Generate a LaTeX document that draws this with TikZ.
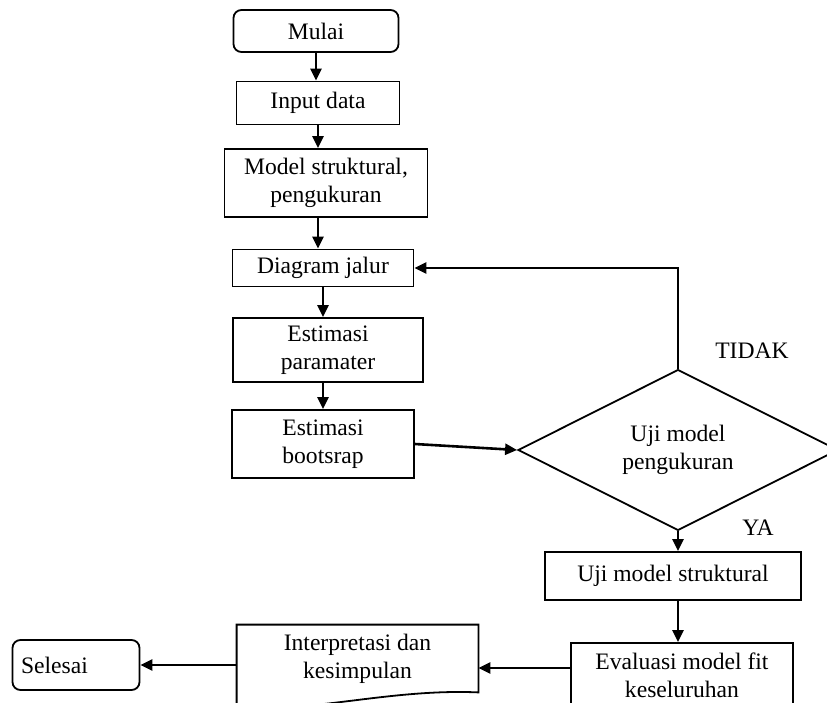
\documentclass[tikz,border=0pt]{standalone}
\usepackage{fontspec}
\setmainfont{Liberation Serif}
\usetikzlibrary{shapes.geometric,arrows.meta}
\tikzset{
  terminal/.style={draw, rounded corners=4pt, line width=0.9pt, inner sep=0pt},
  process/.style={draw, rectangle, line width=0.9pt, align=center, inner sep=0pt},
  decision/.style={draw, diamond, line width=0.9pt, align=center, inner sep=0pt},
  docbox/.style={line width=0.9pt},
  flow/.style={line width=1.3pt, -{Triangle[length=6pt,width=5.5pt]}},
  answer/.style={inner sep=0pt}
}

\begin{document}
\begin{tikzpicture}[x=0.5pt, y=-0.5pt, font=\fontsize{11.8}{14}\selectfont]
  \clip (0,0) rectangle (827,703);
  \node[terminal, minimum width=82.5pt, minimum height=21pt] (mulai) at (316,31) {Mulai};
  \node[process, minimum width=81.5pt, minimum height=21.5pt] (input) at (318,103) {Input data};
  \node[process, minimum width=101.5pt, minimum height=34pt] (model) at (326,183) {Model struktural,\\pengukuran};
  \node[process, minimum width=90.5pt, minimum height=18.5pt] (jalur) at (323,268) {Diagram jalur};
  \node[process, minimum width=95pt, minimum height=32pt] (estpar) at (328,350) {Estimasi\\paramater};
  \node[process, minimum width=91pt, minimum height=34pt] (estboot) at (323,444) {Estimasi\\bootsrap};
  \node[decision, minimum width=160pt, minimum height=63pt] (ujiukur) at (678,450) {Uji model\\pengukuran};
  \node[process, minimum width=128pt, minimum height=24pt] (ujistruk) at (673,576) {Uji model struktural};
  \node[process, minimum width=111pt, minimum height=32pt] (evaluasi) at (682,675) {Evaluasi model fit\\keseluruhan};
  \node[align=center, minimum width=120.5pt, minimum height=33.5pt, inner sep=0pt] (interp) at (357.5,658.5) {Interpretasi dan\\kesimpulan};
  \node[terminal, minimum width=63.5pt, minimum height=25pt, text width=55pt, align=left] (selesai) at (76,665) {Selesai};
  \node[answer] (tidak) at (752,351) {TIDAK};
  \node[answer] (ya) at (758,528) {YA};

  \draw[docbox] ([yshift=-7pt]interp.south west) -- (interp.north west) -- (interp.north east) -- (interp.south east)
    .. controls +(-90,-4) and +(70,8) .. ([yshift=-7pt]interp.south west);

  \draw[flow] (mulai) -- (mulai |- input.north);
  \draw[flow] (input) -- (input |- model.north);
  \draw[flow] (input |- model.south) -- (input |- jalur.north);
  \draw[flow] (jalur) -- (jalur |- estpar.north);
  \draw[flow] (jalur |- estpar.south) -- (jalur |- estboot.north);
  \draw[flow] (estboot.east) -- (ujiukur.west);
  \draw[flow] (ujiukur.north) |- (jalur.east);
  \draw[flow] (ujiukur.south) -- (ujiukur.south |- ujistruk.north);
  \draw[flow] (ujiukur.south |- ujistruk.south) -- (ujiukur.south |- evaluasi.north);
  \draw[flow] ([yshift=3.5pt]evaluasi.west) -- ([yshift=-4.75pt]interp.east);
  \draw[flow] ([yshift=-3.25pt]interp.west) -- (selesai.east);
\end{tikzpicture}
\end{document}
